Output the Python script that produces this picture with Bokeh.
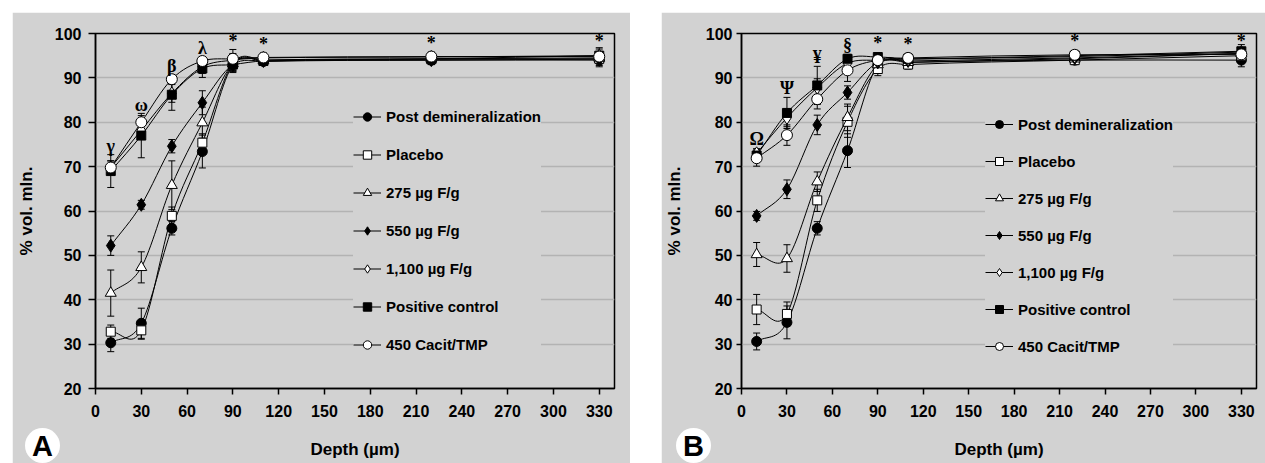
from bokeh.plotting import figure
from bokeh.models import (ColumnDataSource, Whisker, TeeHead, Legend, LegendItem,
                          Spacer, FixedTicker, Range1d, Div)
from bokeh.layouts import row, column
from bokeh.core.properties import value
from bokeh.embed import file_html
from bokeh.resources import INLINE

# ---------------- data ----------------
depths = [10, 30, 50, 70, 90, 110, 220, 330]
series_names = ["Post demineralization", "Placebo", "275 µg F/g", "550 µg F/g",
                "1,100 µg F/g", "Positive control", "450 Cacit/TMP"]
x_ticks = [0, 30, 60, 90, 120, 150, 180, 210, 240, 270, 300, 330]
y_ticks = [20, 30, 40, 50, 60, 70, 80, 90, 100]

# Panel A
post_a = [30.3, 34.7, 56.1, 73.4, 93.0, 93.7, 94.0, 94.0]
placebo_a = [32.8, 33.1, 58.9, 75.4, 93.3, 94.0, 94.2, 94.3]
f275_a = [41.5, 47.3, 65.8, 79.9, 93.2, 94.0, 94.3, 94.5]
f550_a = [52.2, 61.4, 74.6, 84.4, 93.0, 93.8, 94.0, 94.2]
f1100_a = [69.8, 78.2, 86.5, 92.5, 94.0, 94.5, 94.7, 95.0]
pos_a = [69.0, 77.0, 86.2, 92.1, 93.0, 93.8, 94.3, 95.0]
cacit_a = [69.8, 80.0, 89.7, 93.8, 94.3, 94.6, 94.8, 94.8]

post_a_err = [2.0, 3.4, 1.5, 3.7, 1.5, 0.8, 1.0, 1.5]
placebo_a_err = [1.5, 2.0, 2.0, 2.0, 1.5, 0.8, 1.0, 1.0]
f275_a_err = [5.2, 3.5, 5.5, 3.5, 1.5, 0.8, 1.0, 1.0]
f550_a_err = [2.2, 1.0, 1.5, 2.7, 1.5, 0.8, 1.0, 1.0]
f1100_a_err = [1.5, 2.0, 2.0, 1.5, 1.5, 0.8, 1.0, 1.0]
pos_a_err = [3.7, 5.0, 3.5, 2.0, 1.8, 0.8, 1.0, 1.5]
cacit_a_err = [1.5, 1.5, 1.0, 1.0, 2.1, 1.0, 1.0, 2.0]

symbols_a = ["γ", "ω", "β", "λ", "*", "*", "*", "*"]

# Panel B
post_b = [30.6, 34.9, 56.1, 73.6, 93.0, 93.5, 94.0, 94.0]
placebo_b = [37.8, 36.8, 62.4, 80.1, 92.0, 93.0, 94.0, 95.0]
f275_b = [50.2, 49.3, 66.6, 81.1, 93.0, 93.5, 94.3, 95.5]
f550_b = [58.9, 64.9, 79.4, 86.7, 93.5, 93.8, 94.5, 95.5]
f1100_b = [73.0, 81.0, 87.8, 93.3, 94.0, 94.2, 94.8, 95.8]
pos_b = [72.5, 82.1, 88.3, 94.3, 94.7, 94.3, 95.0, 96.0]
cacit_b = [71.9, 77.1, 85.2, 91.7, 94.0, 94.5, 95.2, 95.3]

post_b_err = [1.9, 3.7, 1.5, 3.8, 1.5, 1.0, 1.0, 1.5]
placebo_b_err = [3.4, 2.7, 2.5, 3.5, 1.5, 1.0, 1.0, 1.0]
f275_b_err = [2.7, 3.1, 2.2, 3.0, 1.5, 1.0, 1.0, 1.0]
f550_b_err = [1.0, 2.1, 2.2, 1.5, 1.0, 1.0, 1.0, 1.0]
f1100_b_err = [1.0, 2.0, 2.0, 1.5, 1.0, 1.0, 1.0, 1.0]
pos_b_err = [1.5, 3.5, 4.3, 1.0, 1.0, 1.0, 1.0, 1.5]
cacit_b_err = [1.8, 2.3, 2.2, 2.5, 1.0, 1.0, 1.0, 1.5]

symbols_b = ["Ω", "Ψ", "¥", "§", "*", "*", "*", "*"]

# ---------------- styles ----------------
BG = "#d2d2d2"
GRID = "#b3b3b3"
FONT = "Liberation Sans"
SERIF = "Liberation Serif"
SYM_CEIL = 98.2   # keep significance marks inside the plot area
marker_styles = [
    ("circle", "black", 10),
    ("square", "white", 9),
    ("triangle", "white", 11),
    ("diamond", "black", 13),
    ("diamond", "white", 13),
    ("square", "black", 9),
    ("circle", "white", 11),
]


def smooth(xs, ys):
    """Cubic Hermite (smoothed-line) bezier segments through the data points."""
    n = len(xs)
    m = []
    for i in range(n):
        if i == 0:
            m.append((ys[1] - ys[0]) / (xs[1] - xs[0]))
        elif i == n - 1:
            m.append((ys[-1] - ys[-2]) / (xs[-1] - xs[-2]))
        else:
            m.append((ys[i + 1] - ys[i - 1]) / (xs[i + 1] - xs[i - 1]))
    d = dict(x0=[], y0=[], x1=[], y1=[], cx0=[], cy0=[], cx1=[], cy1=[])
    for i in range(n - 1):
        h = xs[i + 1] - xs[i]
        d["x0"].append(xs[i]); d["y0"].append(ys[i])
        d["x1"].append(xs[i + 1]); d["y1"].append(ys[i + 1])
        d["cx0"].append(xs[i] + h / 3); d["cy0"].append(ys[i] + m[i] * h / 3)
        d["cx1"].append(xs[i + 1] - h / 3); d["cy1"].append(ys[i + 1] - m[i + 1] * h / 3)
    return d


def make_panel(vals, errs, symbols, g):
    p = figure(width=g["w"], height=451, x_range=Range1d(0, 340), y_range=Range1d(20, 100),
               output_backend="svg", toolbar_location=None,
               min_border_left=g["l"], min_border_right=g["r"],
               min_border_top=21, min_border_bottom=75)
    p.background_fill_color = BG
    p.border_fill_color = BG
    p.outline_line_color = "black"
    p.outline_line_width = 1.5
    p.xgrid.visible = False
    p.ygrid.grid_line_color = GRID
    p.ygrid.grid_line_width = 1.5

    p.xaxis.ticker = FixedTicker(ticks=x_ticks)
    p.yaxis.ticker = FixedTicker(ticks=y_ticks)
    for ax in (p.xaxis[0], p.yaxis[0]):
        ax.axis_line_color = "black"
        ax.axis_line_width = 1.5
        ax.major_tick_line_color = "black"
        ax.major_tick_line_width = 1.5
        ax.major_tick_in = 0
        ax.minor_tick_line_color = None
        ax.major_label_text_font = FONT
        ax.major_label_text_font_style = "bold"
        ax.major_label_text_font_size = "16px"
        ax.major_label_text_color = "black"
        ax.axis_label_text_font = FONT
        ax.axis_label_text_font_style = "bold"
        ax.axis_label_text_font_size = "17px"
        ax.axis_label_text_color = "black"
    p.xaxis.major_tick_out = 6
    p.yaxis.major_tick_out = g["yt"]
    p.xaxis.major_label_standoff = 10
    p.yaxis.major_label_standoff = g["yls"]
    p.xaxis.axis_label = "Depth (µm)"
    p.yaxis.axis_label = "% vol. mln."
    p.xaxis.axis_label_standoff = 20
    p.yaxis.axis_label_standoff = g["yas"]

    items = []
    for name, v, e, (mk, fill, sz) in zip(series_names, vals, errs, marker_styles):
        src = ColumnDataSource(dict(x=depths, y=v,
                                    upper=[a + b for a, b in zip(v, e)],
                                    lower=[a - b for a, b in zip(v, e)]))
        w = Whisker(base="x", upper="upper", lower="lower", source=src, dimension="height",
                    line_color="black", line_width=1, level="underlay",
                    upper_head=TeeHead(size=7, line_color="black", line_width=1),
                    lower_head=TeeHead(size=7, line_color="black", line_width=1))
        p.add_layout(w)
        lr = p.bezier(x0="x0", y0="y0", x1="x1", y1="y1", cx0="cx0", cy0="cy0",
                      cx1="cx1", cy1="cy1", source=ColumnDataSource(smooth(depths, v)),
                      line_color="black", line_width=1)
        sr = p.scatter(x="x", y="y", source=src, marker=mk, size=sz,
                       fill_color=fill, line_color="black", line_width=1)
        items.append(LegendItem(label=name, renderers=[lr, sr]))

    # significance symbols above the highest error bar at each depth
    tops = [max(v[i] + e[i] for v, e in zip(vals, errs)) for i in range(len(depths))]
    sym_src = ColumnDataSource(dict(x=depths, y=[min(t + g["so"], SYM_CEIL) for t in tops],
                                    t=symbols))
    p.text(x="x", y="y", text="t", source=sym_src, text_font=value(SERIF),
           text_font_style="bold", text_font_size="18px", text_align="center",
           text_baseline="middle", text_color="black")

    legend = Legend(items=items, location=g["loc"], orientation="vertical",
                    background_fill_color=BG, background_fill_alpha=1.0,
                    border_line_color=None, padding=10, margin=0,
                    glyph_width=28, glyph_height=g["gh"], label_height=g["gh"],
                    spacing=17, label_standoff=5,
                    label_text_font=FONT, label_text_font_style="bold",
                    label_text_font_size="15px", label_text_color="black")
    p.add_layout(legend)
    return p


def panel_badge(letter, left, top):
    return Div(text=letter, width=35, height=35, styles={
        "position": "absolute", "left": f"{left}px", "top": f"{top}px",
        "width": "35px", "height": "35px", "border-radius": "50%",
        "background-color": "white", "color": "black", "font-family": FONT,
        "font-weight": "bold", "font-size": "29px", "text-align": "center",
        "line-height": "36px", "z-index": "10"})


geom_a = dict(w=618, l=83, r=16, yt=7, yls=7, yas=16, so=2.0, loc=(258, 33), gh=21)
geom_b = dict(w=604, l=79, r=9, yt=5, yls=4, yas=19, so=2.2, loc=(244, 32), gh=20)

pA = make_panel([post_a, placebo_a, f275_a, f550_a, f1100_a, pos_a, cacit_a],
                [post_a_err, placebo_a_err, f275_a_err, f550_a_err, f1100_a_err, pos_a_err, cacit_a_err],
                symbols_a, geom_a)
pB = make_panel([post_b, placebo_b, f275_b, f550_b, f1100_b, pos_b, cacit_b],
                [post_b_err, placebo_b_err, f275_b_err, f550_b_err, f1100_b_err, pos_b_err, cacit_b_err],
                symbols_b, geom_b)

layout = column(Spacer(width=1265, height=12),
                row(Spacer(width=12, height=451), pA, Spacer(width=31, height=451), pB),
                panel_badge("A", 20, 423), panel_badge("B", 671, 423))
open("out.html", "w").write(file_html(layout, INLINE))
